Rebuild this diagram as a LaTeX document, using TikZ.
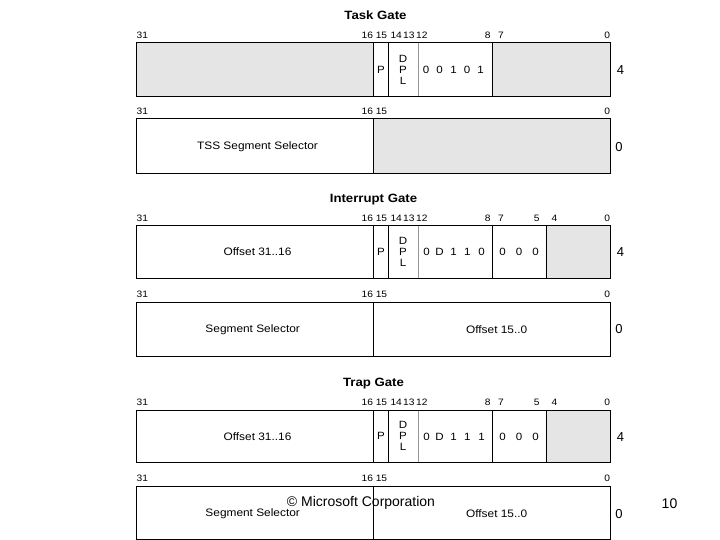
\documentclass[tikz,border=0pt]{standalone}
\usepackage{fontspec}
\setmainfont{Liberation Sans}
\newfontfamily\wfont{Liberation Sans}[FakeStretch=1.1]
\definecolor{gfill}{RGB}{229,229,229}
\definecolor{thinline}{RGB}{150,150,150}
\tikzset{
  bitlbl/.style={font=\wfont\fontsize{9.3}{10}\selectfont, inner sep=0pt},
  gatetitle/.style={font=\wfont\bfseries\fontsize{12}{14}\selectfont, inner sep=0pt},
  fieldlbl/.style={font=\wfont\fontsize{10.8}{12}\selectfont, inner sep=0pt},
  bitval/.style={font=\wfont\fontsize{10.5}{12}\selectfont, inner sep=0pt},
  sidelbl/.style={font=\fontsize{13}{15}\selectfont, inner sep=0pt},
  notelbl/.style={font=\fontsize{14}{16}\selectfont, inner sep=0pt},
  grayfill/.style={fill=gfill},
  frameline/.style={draw=black, line width=0.9pt},
  divline/.style={draw=black, line width=0.8pt},
  thindiv/.style={draw=thinline, line width=0.5pt},
}
% labels of a lower (selector) row: prefix, y
\newcommand\lowerbits[2]{%
  \node[bitlbl,anchor=west] (#1b31) at (136.5,#2) {31};
  \node[bitlbl,anchor=east] (#1b16) at (373.2,#2) {16};
  \node[bitlbl,anchor=west] (#1b15) at (375.6,#2) {15};
  \node[bitlbl,anchor=east] (#1b0)  at (610.3,#2) {0};
}
% labels of an upper row: prefix, y
\newcommand\upperbits[2]{%
  \lowerbits{#1}{#2}
  \node[bitlbl] (#1b14) at (396.2,#2) {14};
  \node[bitlbl] (#1b13) at (408.9,#2) {13};
  \node[bitlbl,anchor=west] (#1b12) at (416,#2) {12};
  \node[bitlbl,anchor=east] (#1b8) at (490.8,#2) {8};
  \node[bitlbl,anchor=west] (#1b7) at (497.8,#2) {7};
}
% P / DPL fields of an upper row: prefix, top, bottom
\newcommand\pdpl[3]{%
  \path (381,{(#2+#3)/2}) node[bitval] (#1p) {P};
  \path (403,{(#2+#3)/2-11}) node[bitval] (#1d) {D};
  \path (403,{(#2+#3)/2}) node[bitval] (#1pp) {P};
  \path (403,{(#2+#3)/2+11}) node[bitval] (#1l) {L};
}
% five type bits: prefix, y, value/x list
\newcommand\typebits[3]{%
  \foreach \v/\xx [count=\i] in {#3} {
    \node[bitval] (#1t\i) at (\xx,#2) {\v};
  }
}
\begin{document}
\begin{tikzpicture}[x=1pt,y=-1pt]
\useasboundingbox (0,0) rectangle (720,540);
\fill[white] (0,0) rectangle (720,540);

% ================= Task Gate =================
\node[gatetitle] (tasktitle) at (375.5,15.7) {Task Gate};
\upperbits{ta}{35}
\fill[grayfill] (136,42.3) rectangle (373.7,96.7);
\fill[grayfill] (492.3,42.3) rectangle (610.7,96.7);
\draw[thindiv] (418.3,42.3) -- (418.3,96.7);
\draw[divline] (373.7,42.3) -- (373.7,96.7)
               (388.3,42.3) -- (388.3,96.7)
               (492.3,42.3) -- (492.3,96.7);
\draw[frameline] (136,42.3) rectangle (610.7,96.7);
\pdpl{ta}{42.3}{96.7}
\typebits{ta}{69.5}{0/426,0/439.5,1/453.5,0/467,1/480.5}
\node[sidelbl] (taside) at (620.5,70.5) {4};

\lowerbits{tb}{111.7}
\fill[grayfill] (373.7,118.3) rectangle (610.7,173.3);
\draw[divline] (373.7,118.3) -- (373.7,173.3);
\draw[frameline] (136,118.3) rectangle (610.7,173.3);
\node[fieldlbl] (tssel) at (257.5,146.3) {TSS Segment Selector};
\node[sidelbl] (tbside) at (619,146.7) {0};

% ================= Interrupt Gate =================
\node[gatetitle] (inttitle) at (373.5,199.3) {Interrupt Gate};
\upperbits{ia}{218.3}
\node[bitlbl,anchor=east] (iab5) at (539.8,218.3) {5};
\node[bitlbl,anchor=west] (iab4) at (551.5,218.3) {4};
\fill[grayfill] (546.7,225) rectangle (610.7,278.3);
\draw[thindiv] (418.3,225) -- (418.3,278.3);
\draw[divline] (373.7,225) -- (373.7,278.3)
               (388.3,225) -- (388.3,278.3)
               (492.3,225) -- (492.3,278.3)
               (546.7,225) -- (546.7,278.3);
\draw[frameline] (136,225) rectangle (610.7,278.3);
\node[fieldlbl] (iaoff) at (257.5,251.7) {Offset 31..16};
\pdpl{ia}{225}{278.3}
\typebits{ia}{251.7}{0/426.5,D/439.5,1/453.5,1/467.3,0/481.5}
\node[bitval] (iaz1) at (502.5,251.7) {0};
\node[bitval] (iaz2) at (519,251.7) {0};
\node[bitval] (iaz3) at (535.5,251.7) {0};
\node[sidelbl] (iaside) at (620.5,252) {4};

\lowerbits{ib}{294.3}
\draw[divline] (373.7,302.7) -- (373.7,356);
\draw[frameline] (136,302.7) rectangle (610.7,356);
\node[fieldlbl] (ibsel) at (252.7,329.3) {Segment Selector};
\node[fieldlbl] (iboff) at (496.7,329.3) {Offset 15..0};
\node[sidelbl] (ibside) at (619,329.3) {0};

% ================= Trap Gate =================
\node[gatetitle] (traptitle) at (373.5,383.7) {Trap Gate};
\upperbits{ra}{402.3}
\node[bitlbl,anchor=east] (rab5) at (539.8,402.3) {5};
\node[bitlbl,anchor=west] (rab4) at (551.5,402.3) {4};
\fill[grayfill] (546.7,410) rectangle (610.7,462.7);
\draw[thindiv] (418.3,410) -- (418.3,462.7);
\draw[divline] (373.7,410) -- (373.7,462.7)
               (388.3,410) -- (388.3,462.7)
               (492.3,410) -- (492.3,462.7)
               (546.7,410) -- (546.7,462.7);
\draw[frameline] (136,410) rectangle (610.7,462.7);
\node[fieldlbl] (raoff) at (257.5,436.7) {Offset 31..16};
\pdpl{ra}{410}{462.7}
\typebits{ra}{436.7}{0/426.5,D/439.5,1/453.5,1/467.3,1/481.5}
\node[bitval] (raz1) at (502.5,436.7) {0};
\node[bitval] (raz2) at (519,436.7) {0};
\node[bitval] (raz3) at (535.5,436.7) {0};
\node[sidelbl] (raside) at (620.5,437) {4};

\lowerbits{rb}{478.3}
\draw[divline] (373.7,486.7) -- (373.7,539);
\draw[frameline] (136,486.7) rectangle (610.7,539);
\node[fieldlbl] (rbsel) at (252.7,513.3) {Segment Selector};
\node[fieldlbl] (rboff) at (496.7,513.3) {Offset 15..0};
\node[sidelbl] (rbside) at (619,514) {0};

% ================= footer =================
\node[notelbl] (copyr) at (361,503.3) {© Microsoft Corporation};
\node[notelbl] (pagenum) at (669.5,503.3) {10};
\end{tikzpicture}
\end{document}
